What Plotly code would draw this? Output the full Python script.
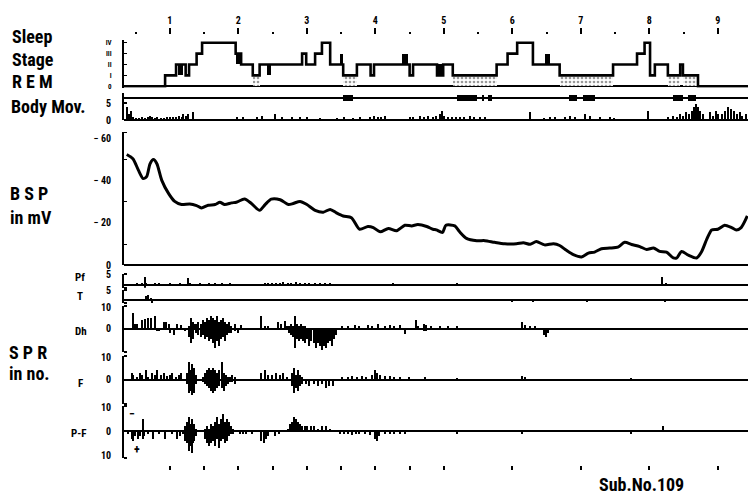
import plotly.graph_objects as go

FONT = "Roboto Condensed, Noto Sans Condensed, DejaVu Sans Condensed, Liberation Sans Narrow, Arial Narrow, Roboto, sans-serif"
INK = "black"
W, H = 748, 500

# ---------------- time axis (hours of recording) ----------------
T_START, T_END = 0.33, 9.44
hour_marks = [1, 2, 3, 4, 5, 6, 7, 8, 9]
half_marks = [0.5, 1.5, 2.5, 3.5, 4.5, 5.5, 6.5, 7.5, 8.5]
bottom_marks = [1, 1.5, 2, 2.5, 3, 3.5, 4, 4.5, 5, 6, 7, 8, 9]

# ---------------- sleep stage (0, I..IV) ----------------
stage_names = ["0", "I", "II", "III", "IV"]
hyp_t = [0.33, 0.93, 1.09, 1.23, 1.28, 1.39, 1.47, 1.96, 2.04, 2.21, 2.31, 2.93, 2.99,
         3.12, 3.22, 3.34, 3.53, 3.73, 3.93, 3.98, 4.50, 4.55, 4.90, 4.99, 5.13, 5.77,
         5.93, 6.07, 6.30, 6.69, 7.47, 7.82, 7.93, 8.01, 8.08, 8.27, 8.45, 8.49, 8.71, 9.44]
hyp_s = [0, 1, 2, 1, 2, 3, 4, 3, 2, 1, 2, 3, 2,
         3, 4, 2, 1, 2, 1, 2, 1, 2, 1, 2, 1, 2,
         3, 4, 2, 1, 2, 3, 4, 1, 2, 1, 2, 1, 0, 0]

# movement epochs drawn as solid blocks inside the hypnogram
move_t0 = [1.12, 1.96, 2.42, 3.48, 4.39, 4.90, 6.47]
move_t1 = [1.19, 2.04, 2.47, 3.53, 4.47, 4.99, 6.55]
move_lo = [1, 2, 1, 2, 2, 1, 2]
move_hi = [2, 3, 2, 3, 3, 2, 3]

# stippled stage-I REM periods
rem_stage = 1
remfill_t0 = [2.21, 3.53, 5.13, 6.69, 8.27, 8.49]
remfill_t1 = [2.31, 3.73, 5.77, 7.47, 8.45, 8.71]

# ---------------- REM bursts ----------------
rem_t0 = [3.53, 5.19, 5.56, 5.64, 6.83, 7.03, 8.34, 8.56]
rem_t1 = [3.67, 5.48, 5.58, 5.70, 6.94, 7.20, 8.49, 8.68]

# ---------------- body movements (counts) ----------------
bm_t = [0.37, 0.40, 0.43, 0.47, 0.50, 0.55, 0.59, 0.64, 0.68, 0.71, 0.74, 0.78, 0.82, 0.87,
        0.91, 0.96, 1.00, 1.04, 1.09, 1.13, 1.18, 1.20, 1.23, 1.26, 1.34, 1.98, 2.07, 2.28,
        2.34, 2.53, 2.64, 2.78, 2.90, 3.00, 3.19, 3.44, 3.55, 3.67, 3.77, 3.92, 3.98, 4.04,
        4.09, 4.14, 4.50, 4.55, 4.65, 4.71, 4.77, 4.84, 4.88, 4.94, 4.97, 5.01, 5.06, 5.12,
        5.18, 5.23, 5.29, 5.38, 5.44, 5.53, 5.60, 6.26, 6.47, 6.55, 6.62, 6.77, 6.84, 6.91,
        7.06, 7.13, 7.28, 7.42, 7.48, 7.98, 8.27, 8.34, 8.40, 8.45, 8.49, 8.53, 8.58, 8.62,
        8.65, 8.68, 8.71, 8.74, 8.78, 8.88, 8.93, 8.97, 9.01, 9.06, 9.10, 9.15, 9.19, 9.23,
        9.28, 9.32, 9.36, 9.41]
bm_n = [4, 2, 3, 1, 0.8, 0.8, 1, 0.7, 1.2, 1.5, 1, 0.8, 1, 0.8,
        0.8, 1, 1.2, 1, 1.2, 1.5, 1.2, 2, 1.5, 2, 2.5, 1, 1, 1.2,
        1.5, 2, 1, 1, 1, 1, 0.8, 0.8, 1, 0.8, 1, 1.2, 1.5, 1,
        1, 1.5, 1, 1.2, 1.5, 1, 1.5, 1.2, 1.5, 2, 3, 1.5, 1, 1.2,
        1, 1, 1, 1.5, 1, 1, 1, 2.5, 0.8, 1, 1, 1, 1.5, 1.2,
        2, 1.5, 1, 1, 0.8, 2.8, 1, 1.5, 1, 2, 1.5, 2.5, 2, 3,
        4, 5, 4, 3, 2, 2.5, 1.5, 3, 2, 2, 3, 4, 3.5, 3,
        2, 2.5, 1.5, 2]

# ---------------- basal skin potential (mV) ----------------
bsp_t = [0.37, 0.46, 0.54, 0.61, 0.66, 0.71, 0.76, 0.81, 0.88, 0.98, 1.07, 1.17, 1.29,
         1.39, 1.46, 1.56, 1.66, 1.73, 1.80, 1.90, 1.97, 2.09, 2.19, 2.31, 2.39, 2.48,
         2.61, 2.73, 2.80, 2.90, 3.00, 3.12, 3.24, 3.34, 3.43, 3.53, 3.65, 3.77, 3.89,
         3.97, 4.07, 4.19, 4.31, 4.43, 4.53, 4.62, 4.75, 4.84, 4.89, 4.98, 5.03, 5.16,
         5.23, 5.33, 5.48, 5.60, 5.74, 5.89, 6.06, 6.16, 6.26, 6.35, 6.47, 6.60, 6.69,
         6.79, 6.89, 7.01, 7.11, 7.20, 7.30, 7.42, 7.54, 7.64, 7.74, 7.86, 7.96, 8.06,
         8.15, 8.25, 8.35, 8.40, 8.47, 8.57, 8.69, 8.76, 8.84, 8.91, 9.00, 9.10, 9.20,
         9.27, 9.34, 9.43]
bsp_mv = [-52.4, -50.4, -45.0, -41.0, -41.9, -48.0, -50.0, -48.0, -40.3, -34.0, -30.2, -28.7, -29.0,
          -28.2, -27.1, -28.4, -28.7, -29.8, -28.7, -29.5, -29.8, -31.3, -29.2, -26.0, -28.7, -31.3,
          -31.0, -28.7, -29.2, -30.2, -28.7, -26.0, -25.1, -26.4, -24.8, -23.3, -22.5, -17.0, -18.3,
          -17.8, -15.8, -17.4, -16.3, -18.9, -18.6, -19.2, -18.3, -17.0, -16.7, -15.5, -18.9, -18.6,
          -15.8, -12.7, -11.6, -11.6, -10.8, -10.1, -10.1, -10.6, -9.9, -11.2, -9.6, -10.1, -9.3,
          -7.0, -5.0, -3.9, -5.7, -6.2, -7.8, -8.1, -8.5, -10.8, -9.8, -8.8, -7.4, -8.1,
          -6.5, -6.2, -3.4, -3.4, -6.5, -4.7, -3.4, -6.2, -12.4, -16.7, -17.0, -18.9, -17.8,
          -16.7, -17.8, -23.3]
bsp_ticks = [0, -20, -40, -60]
bsp_ticktext = ["0", "\u2212 20", "\u2212 40", "\u2212 60"]

# ---------------- skin potential responses (counts) ----------------
pf_t = [0.52, 0.59, 0.64, 0.66, 0.78, 0.85, 1.00, 1.15, 1.26, 1.29, 1.44, 1.58, 1.66, 1.76,
        1.88, 2.39, 2.43, 2.49, 2.55, 2.61, 2.66, 2.72, 2.77, 2.84, 2.90, 2.97, 3.04, 3.12,
        3.19, 3.26, 3.34, 4.26, 5.19, 8.18, 8.25]
pf_pos = [1, 1, 4, 1, 0.7, 0.7, 0.7, 1, 3.5, 1, 0.7, 0.7, 0.8, 0.7,
          0.7, 0.8, 0.7, 0.8, 1, 1, 1.2, 0.8, 1, 1.3, 0.8, 1, 0.8, 1,
          1, 0.7, 0.7, 0.6, 0.8, 4, 0.8]
pf_neg = [0, 0, -2, 0, 0, 0, 0, 0, 0, 0, 0, 0, 0, 0,
          0, 0, 0, 0, 0, 0, 0, 0, 0, 0, 0, 0, 0, 0,
          0, 0, 0, 0, 0, 0, 0]

tt_t = [0.66, 0.69, 0.72, 0.74, 5.99, 6.30, 7.09, 8.23]
tt_pos = [2.5, 3, 1.5, 0, 0, 0, 0, 0]
tt_neg = [0, 0, 0, -1, -0.6, -0.6, -0.6, -0.8]

dh_t = [0.46, 0.49, 0.52, 0.59, 0.64, 0.68, 0.72, 0.78, 0.82, 0.85, 0.91, 0.94, 0.99, 1.01,
        1.06, 1.10, 1.16, 1.22, 1.28, 1.31, 1.34, 1.36, 1.39, 1.42, 1.45, 1.48, 1.51, 1.54,
        1.57, 1.60, 1.63, 1.66, 1.69, 1.72, 1.75, 1.78, 1.81, 1.84, 1.87, 1.90, 1.95, 2.00,
        2.04, 2.34, 2.39, 2.43, 2.58, 2.62, 2.68, 2.71, 2.74, 2.77, 2.80, 2.83, 2.86, 2.89,
        2.92, 2.95, 2.98, 3.01, 3.04, 3.07, 3.10, 3.13, 3.16, 3.19, 3.22, 3.25, 3.28, 3.31,
        3.34, 3.37, 3.40, 3.43, 3.51, 3.60, 3.70, 3.77, 3.89, 3.95, 4.04, 4.14, 4.21, 4.28,
        4.36, 4.43, 4.59, 4.62, 4.71, 4.74, 4.82, 4.94, 5.06, 5.19, 6.15, 6.18, 6.26, 6.33,
        6.47, 6.50, 6.53]
dh_pos = [7, 2, 2, 4, 4.5, 5, 5, 6, 0, 0, 3, 3, 2, 0,
          0, 2, 1.5, 0, 1, 5, 3, 2, 2, 3, 2, 4, 3, 5,
          4, 6, 5, 4, 6, 3, 4, 5, 3, 2, 3, 1, 2, 0,
          1.5, 6, 1, 1, 3, 2, 3.5, 1, 1, 2, 1, 6, 2, 1,
          2, 1, 1, 0, 0, 0, 0, 0, 0, 0, 0, 0, 0, 0,
          0, 0, 0, 0, 1, 1, 1.5, 1, 1.5, 1, 2, 1, 1.5, 1,
          1.5, 0, 4, 1, 2, 1.5, 1, 1, 1, 1, 3, 1.5, 1, 1,
          0, 0, 0]
dh_neg = [0, 0, 0, 0, 0, 0, 0, 0, -1, -1, 0, 0, 0, -2,
          -3, 0, 0, -1, -4, -7, -5, 0, -2, -3, -4, -3, -5, -4,
          -6, -5, -7, -9, -6, -8, -5, -4, -6, -3, -2, -2, -1, -2,
          0, 0, 0, 0, 0, 0, 0, 0, -2, -3, -4, -9, -5, -6,
          -5, -6, -7, -5, -8, -6, -7, -9, -7, -8, -10, -8, -9, -7,
          -6, -8, -5, -3, 0, 0, 0, 0, 0, 0, 0, 0, 0, 0,
          0, -2.5, 0, 0, -1, -1, 0, 0, 0, 0, 0, 0, 0, 0,
          -3, -4, -2]

f_t = [0.45, 0.47, 0.52, 0.56, 0.60, 0.65, 0.69, 0.74, 0.78, 0.82, 0.87, 0.91, 0.96, 1.00,
       1.04, 1.09, 1.13, 1.17, 1.25, 1.28, 1.30, 1.32, 1.34, 1.36, 1.38, 1.48, 1.51, 1.54,
       1.57, 1.60, 1.63, 1.66, 1.69, 1.72, 1.76, 1.79, 1.82, 1.85, 1.88, 1.91, 1.95, 2.34,
       2.39, 2.43, 2.49, 2.55, 2.61, 2.66, 2.71, 2.78, 2.81, 2.84, 2.87, 2.90, 2.93, 2.99,
       3.04, 3.10, 3.16, 3.22, 3.28, 3.33, 3.38, 3.51, 3.60, 3.66, 3.74, 3.80, 3.86, 3.95,
       3.99, 4.02, 4.07, 4.14, 4.21, 4.28, 4.36, 4.50, 4.72, 5.19, 6.15, 6.18, 7.74]
f_pos = [3, 2, 1, 3, 2, 4, 1, 3, 2, 4, 2, 3, 1.5, 2,
         3, 1, 2, 3, 3, 8, 4, 7, 3, 5, 2, 1, 3, 4,
         5, 4, 5, 4, 3, 4, 8, 3, 2, 1, 1, 2, 1, 3,
         4, 2, 2, 3, 2, 3, 1, 3, 5, 2, 4, 2, 1, 0,
         0, 0, 0, 0, 0, 0, 0, 1, 1, 1.5, 1, 1.5, 1, 2,
         4, 3, 2, 1.5, 1.5, 1, 1, 1, 1, 0.8, 1.5, 1, 0.6]
f_neg = [0, 0, 0, 0, 0, 0, 0, 0, 0, 0, 0, 0, 0, 0,
         0, 0, 0, 0, -2, -6, -5, -7, -4, -6, -2, -1, -2, -3,
         -4, -5, -6, -5, -4, -3, -4, -5, -3, -2, -1, -1, -2, 0,
         0, 0, 0, 0, 0, 0, 0, -3, -6, -4, -5, -3, -2, -2,
         -3, -2, -3, -2, -4, -3, -3, 0, 0, 0, 0, 0, 0, 0,
         0, 0, 0, 0, 0, 0, 0, 0, 0, 0, 0, 0, 0]

pmf_t = [0.39, 0.45, 0.47, 0.50, 0.53, 0.56, 0.61, 0.63, 0.68, 0.75, 0.85, 0.93, 1.03, 1.10,
         1.15, 1.19, 1.22, 1.25, 1.28, 1.30, 1.32, 1.34, 1.36, 1.38, 1.51, 1.54, 1.57, 1.60,
         1.63, 1.66, 1.69, 1.72, 1.75, 1.78, 1.81, 1.84, 1.87, 1.90, 1.93, 2.02, 2.07, 2.12,
         2.20, 2.34, 2.37, 2.40, 2.43, 2.53, 2.60, 2.72, 2.75, 2.78, 2.81, 2.84, 2.87, 2.90,
         2.93, 2.97, 3.01, 3.06, 3.10, 3.16, 3.22, 3.28, 3.34, 3.48, 3.54, 3.60, 3.66, 3.72,
         3.77, 3.85, 3.92, 3.99, 4.02, 4.05, 4.14, 4.21, 4.28, 4.36, 4.43, 5.19, 6.15, 7.74,
         8.20]
pmf_pos = [0, 0, 0, 0, 0, 0, 5, 0, 0, 0, 0, 0, 0, 0,
           0, 0, 2, 4, 6, 3, 5, 2, 3, 1, 1, 2, 1, 3,
           2, 4, 6, 3, 5, 7, 4, 5, 4, 2, 1, 0, 0, 0,
           0, 0, 0, 0, 0, 0, 0, 1, 3, 4, 6, 5, 4, 3,
           2, 2, 2, 2, 2, 1, 2, 2, 1, 0, 0, 0, 0, 0,
           0, 0, 0, 0, 0, 0, 0, 0, 0, 0, 0, 0, 0, 0,
           2]
pmf_neg = [-1, -3, -4, -2, -3, -2, -3, -2, -1, -3, -1, -3, -1, -3,
           -2, -1, -4, -5, -8, -6, -9, -5, -4, -2, -3, -5, -6, -5,
           -4, -6, -3, -7, -4, -3, -5, -4, -2, -1, -1, -1, -1, -1,
           -1, -4, -5, -3, -2, -2, -1, 0, 0, 0, 0, 0, 0, 0,
           0, 0, 0, 0, 0, 0, 0, 0, 0, -1, -1, -1, -1.5, -1,
           -1, -1, -1.5, -3, -4, -2, -1, -1, -1, -1, -1, -1, -1, -1,
           0]


def dom(top_px, bottom_px):
    """Vertical paper domain from pixel rows of the 500 px page."""
    return [1 - bottom_px / H, 1 - top_px / H]


def spikes(t, v, yaxis, width=0.02):
    return go.Bar(x=t, y=v, width=width, xaxis="x", yaxis=yaxis,
                  marker=dict(color=INK, line=dict(width=0)), hoverinfo="skip")


def blocks(t0, t1, lo, hi, yaxis, **marker):
    return go.Bar(x=t0, y=[b - a for a, b in zip(lo, hi)], base=lo, offset=0,
                  width=[b - a for a, b in zip(t0, t1)], xaxis="x", yaxis=yaxis,
                  marker=marker, hoverinfo="skip")


fig = go.Figure()

# hypnogram
fig.add_trace(blocks(remfill_t0, remfill_t1, [0] * len(remfill_t0),
                     [rem_stage] * len(remfill_t0), "y",
                     color="white", line=dict(width=0),
                     pattern=dict(shape=".", fgcolor="#333", bgcolor="white",
                                  size=4, solidity=0.35)))
fig.add_trace(blocks(move_t0, move_t1, move_lo, move_hi, "y", color=INK, line=dict(width=0)))
fig.add_trace(go.Scatter(x=hyp_t, y=hyp_s, mode="lines", line=dict(color=INK, width=2.6, shape="hv"),
                         xaxis="x", yaxis="y", hoverinfo="skip"))

# REM bursts
fig.add_trace(blocks(rem_t0, rem_t1, [-0.6] * len(rem_t0), [0.6] * len(rem_t0), "y2",
                     color=INK, line=dict(width=0)))

# body movements
fig.add_trace(spikes(bm_t, bm_n, "y3", width=0.018))

# BSP
fig.add_trace(go.Scatter(x=bsp_t, y=bsp_mv, mode="lines",
                         line=dict(color=INK, width=3, shape="spline", smoothing=0.7),
                         xaxis="x", yaxis="y4", hoverinfo="skip"))

# SPR channels
for t, pos, neg, ax in [(pf_t, pf_pos, pf_neg, "y5"), (tt_t, tt_pos, tt_neg, "y6"),
                        (dh_t, dh_pos, dh_neg, "y7"), (f_t, f_pos, f_neg, "y8"),
                        (pmf_t, pmf_pos, pmf_neg, "y9")]:
    fig.add_trace(spikes(t, pos, ax))
    fig.add_trace(spikes(t, neg, ax))

# carriers for the top and bottom time scales
for xa in ["x2", "x3"]:
    fig.add_trace(go.Scatter(x=[T_START], y=[0], mode="markers", marker=dict(opacity=0),
                             xaxis=xa, yaxis="y", hoverinfo="skip"))

tickfont = dict(family=FONT, size=10, color=INK, weight="bold")


def yax(domain, rng, tickvals=None, ticktext=None, serifs=True, **kw):
    d = dict(domain=domain, range=rng, anchor="x", showgrid=False,
             zeroline=True, zerolinecolor=INK, zerolinewidth=1.6,
             showline=True, linecolor=INK, linewidth=2,
             tickmode="array", tickvals=tickvals or [], ticktext=ticktext,
             ticks="", tickfont=tickfont, ticklabelstandoff=9, fixedrange=True)
    if serifs:
        # short end caps so each axis reads as a bracket
        d["minor"] = dict(tickmode="array", tickvals=list(rng), ticks="inside",
                          ticklen=3, tickwidth=2, tickcolor=INK)
    d.update(kw)
    return d


x_dom = [124 / W, 1.0]
xcommon = dict(domain=x_dom, range=[T_START, T_END], showgrid=False, zeroline=False,
               showline=False, fixedrange=True)

fig.update_layout(
    width=W, height=H, margin=dict(l=0, r=0, t=0, b=0),
    paper_bgcolor="white", plot_bgcolor="white", showlegend=False,
    barmode="overlay", bargap=0,
    font=dict(family=FONT, color=INK),
    xaxis=dict(xcommon, visible=False, anchor="y"),
    xaxis2=dict(xcommon, overlaying="x", anchor="free", position=1 - 30 / H, side="top",
                tickmode="array", tickvals=hour_marks, ticktext=[str(h) for h in hour_marks],
                ticks="outside", ticklen=6, tickwidth=1.5, tickcolor=INK,
                tickfont=dict(family=FONT, size=10, color=INK, weight="bold"),
                minor=dict(tickmode="array", tickvals=half_marks, ticks="outside",
                           ticklen=2, tickwidth=2, tickcolor=INK)),
    xaxis3=dict(xcommon, overlaying="x", anchor="free", position=1 - 470 / H, side="bottom",
                tickmode="array", tickvals=bottom_marks, showticklabels=False,
                ticks="outside", ticklen=4, tickwidth=1.5, tickcolor=INK),
    yaxis=yax(dom(35.8, 84.7), [-0.15, 4.25], [0, 1, 2, 3, 4], stage_names, serifs=False,
              ticks="inside", ticklen=3, tickcolor=INK,
              tickfont=dict(family=FONT, size=7, color=INK, weight="bold")),
    yaxis2=yax(dom(90, 100), [-1, 1], serifs=False),
    yaxis3=yax(dom(100, 118), [0, 5.3], [0, 5], ["0", "5"]),
    yaxis4=yax(dom(130, 266), [0, -63], bsp_ticks, bsp_ticktext,
               minor=dict(tickmode="array", tickvals=[-10, -30, -50, -63], ticks="inside",
                          ticklen=3, tickcolor=INK)),
    yaxis5=yax(dom(275, 289), [-1.5, 5.5], [5], ["5"]),
    yaxis6=yax(dom(291, 305), [-1.5, 5.5], [5], ["5"]),
    yaxis7=yax(dom(308, 355), [-11, 10.5], [10, 0], ["10", "0"]),
    yaxis8=yax(dom(359, 408), [-11, 10.5], [10, 0], ["10", "0"]),
    yaxis9=yax(dom(410, 463), [-11, 10.5], [10, 0, -10], ["10", "0", "10"]),
)

# panel captions
big = dict(family=FONT, size=18, color=INK, weight="bold")
small = dict(family=FONT, size=11, color=INK, weight="bold")
captions = [
    ("Sleep", 10, 32, big, "left"), ("Stage", 10, 56, big, "left"),
    ("R E M", 10, 78, big, "left"), ("Body Mov.", 9, 104, big, "left"),
    ("B S P", 8, 193, big, "left"), ("in mV", 8, 217, big, "left"),
    ("S P R", 7, 355, big, "left"), ("in no.", 7, 377, big, "left"),
    ("Pf", 80, 279, small, "center"), ("T", 80, 298, small, "center"),
    ("Dh", 81, 334, small, "center"), ("F", 80, 387, small, "center"),
    ("P-F", 78, 438, small, "center"),
    ("Sub.No.109", 597, 490, dict(big, size=18), "left"),
]
for text, px, py, f, anc in captions:
    fig.add_annotation(text=text, x=px / W, y=1 - py / H, xref="paper", yref="paper",
                       xanchor=anc, yanchor="middle", showarrow=False, font=f)

# polarity marks on the P-F channel
fig.add_annotation(text="\u2212", x=0.45, y=7, xref="x", yref="y9", showarrow=False,
                   font=dict(family=FONT, size=12, color=INK, weight="bold"))
fig.add_annotation(text="+", x=0.52, y=-7.8, xref="x", yref="y9", showarrow=False,
                   font=dict(family=FONT, size=12, color=INK, weight="bold"))

fig.write_html("out.html")
